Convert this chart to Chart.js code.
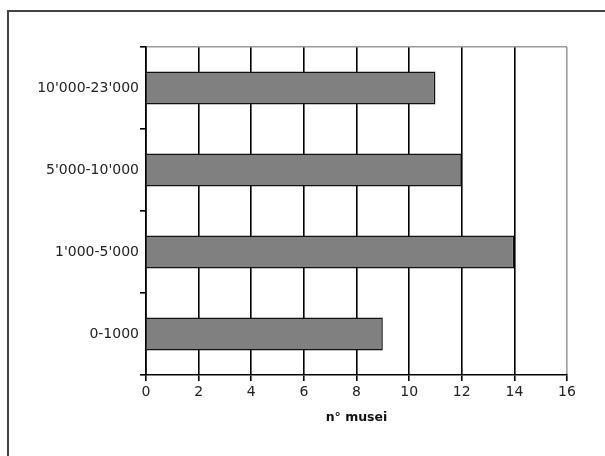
<!DOCTYPE html>
<html>
<head>
<meta charset="utf-8">
<script src="https://cdn.jsdelivr.net/npm/chart.js@4"></script>
<style>
  html, body { margin: 0; padding: 0; background: #fff; }
  #wrap { width: 605px; height: 456px; }
</style>
</head>
<body>
<div id="wrap"><canvas id="museumChart" width="605" height="456"></canvas></div>
<script>
  // categories top to bottom, as in the picture
  const categories = ["10'000-23'000", "5'000-10'000", "1'000-5'000", "0-1000"];
  const museums = [11, 12, 14, 9];
  const xTicks = [0, 2, 4, 6, 8, 10, 12, 14, 16];
  const xTitle = 'n° musei';

  // outer frame of the picture (only top and left edges show)
  const framePlugin = {
    id: 'frame',
    beforeDraw(chart) {
      const c = chart.ctx;
      c.save();
      c.fillStyle = '#fff';
      c.fillRect(0, 0, chart.width, chart.height);
      c.strokeStyle = '#444';
      c.lineWidth = 2;
      c.beginPath();
      c.moveTo(chart.width, 11);
      c.lineTo(8, 11);
      c.lineTo(8, chart.height);
      c.stroke();
      c.restore();
    }
  };

  const ctx = document.getElementById('museumChart').getContext('2d');
  new Chart(ctx, {
    type: 'bar',
    data: {
      labels: categories,
      datasets: [{
        label: xTitle,
        data: museums,
        backgroundColor: '#808080',
        borderColor: '#111',
        borderWidth: 1.5,
        barPercentage: 0.4,
        categoryPercentage: 1
      }]
    },
    options: {
      indexAxis: 'y',
      responsive: false,
      animation: false,
      layout: { padding: { left: 0, top: 47, right: 38, bottom: 27 } },
      plugins: {
        legend: { display: false },
        tooltip: { enabled: false }
      },
      scales: {
        x: {
          min: 0,
          max: 16,
          afterBuildTicks: scale => { scale.ticks = xTicks.map(v => ({ value: v })); },
          afterFit: scale => { scale.height = 54; },
          grid: {
            color: c => c.tick && c.tick.value === 16 ? '#9a9a9a' : '#000',
            tickColor: '#000',
            lineWidth: 1.6,
            tickLength: 6
          },
          border: { display: true, color: '#000', width: 1.6 },
          ticks: {
            color: '#222',
            padding: 3,
            font: { family: 'DejaVu Sans', size: 14 }
          },
          title: {
            display: true,
            text: xTitle,
            color: '#111',
            padding: { top: 0, bottom: 4 },
            font: { family: 'DejaVu Sans', size: 12.5, weight: 'bold' }
          }
        },
        y: {
          afterFit: scale => { scale.width = 146; },
          grid: {
            offset: true,
            color: c => c.index === 0 ? '#9a9a9a' : 'rgba(0,0,0,0)',
            tickColor: '#000',
            lineWidth: 1.6,
            tickLength: 6
          },
          border: { display: true, color: '#000', width: 1.6 },
          ticks: {
            color: '#222',
            padding: 1,
            font: { family: 'DejaVu Sans', size: 14 }
          }
        }
      }
    },
    plugins: [framePlugin]
  });
</script>
</body>
</html>
